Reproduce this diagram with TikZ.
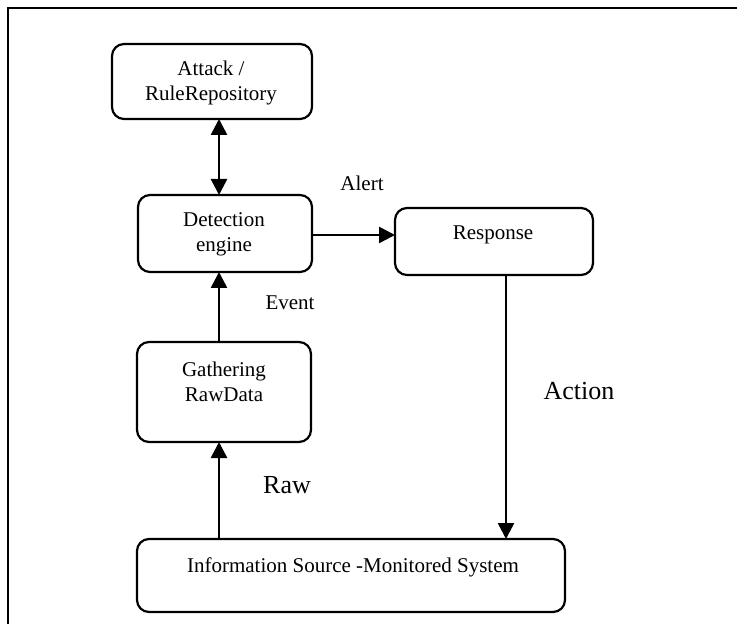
\documentclass[tikz,border=0pt]{standalone}
\usepackage{fontspec}
\setmainfont{Liberation Serif}
\usetikzlibrary{arrows.meta}
\begin{document}
\begin{tikzpicture}[x=0.5pt,y=-0.5pt,
  box/.style={draw,line width=1.1pt,rounded corners=6pt,inner sep=0pt,outer sep=0pt},
  txt/.style={font=\fontsize{10.5pt}{12.5pt}\selectfont,align=center,inner sep=0pt},
  big/.style={font=\fontsize{13pt}{15pt}\selectfont,inner sep=0pt},
  conn/.style={line width=1.3pt,-{Triangle[length=8pt,width=8pt]}},
  dconn/.style={line width=1.3pt,{Triangle[length=8pt,width=8pt]}-{Triangle[length=8pt,width=8pt]}}]
\useasboundingbox (0,0) rectangle (737,624);
% frame (only left and top edges visible)
\draw[line width=1.4pt] (8,640) -- (8,8) -- (750,8);
% boxes
\node[box,minimum width=100pt,minimum height=37.5pt] (attack) at (212,81.5) {};
\node[box,minimum width=87pt,minimum height=38.5pt] (detect) at (225,233.5) {};
\node[box,minimum width=87pt,minimum height=50pt] (gather) at (224,392) {};
\node[box,minimum width=99pt,minimum height=33.5pt] (response) at (494,241.5) {};
\node[box,minimum width=214pt,minimum height=36.5pt] (info) at (351,575.5) {};
% box texts
\node[txt] (attackT) at (211,83) {Attack /\\RuleRepository};
\node[txt] (detectT) at (224,234) {Detection\\engine};
\node[txt] (gatherT) at (224,382) {Gathering\\RawData};
\node[txt] (responseT) at (493,235) {Response};
\node[txt] (infoT) at (353,567) {Information Source -Monitored System};
% helper coordinates
\coordinate (ax) at (219,0);
\coordinate (bx) at (506,0);
% connectors
\draw[dconn] (attack.south -| ax) -- (detect.north -| ax);
\draw[conn] (gather.north -| ax) -- (detect.south -| ax);
\draw[conn] (info.north -| ax) -- (gather.south -| ax);
\draw[conn] ([yshift=-0.75pt]detect.east) -- ([yshift=-0.75pt]detect.east -| response.west);
\draw[conn] (response.south -| bx) -- (info.north -| bx);
% labels
\node[txt] (alertL) at (362,183) {Alert};
\node[txt] (eventL) at (290,303) {Event};
\node[big] (actionL) at (579,391) {Action};
\node[big] (rawL) at (287,485) {Raw};
\end{tikzpicture}
\end{document}
